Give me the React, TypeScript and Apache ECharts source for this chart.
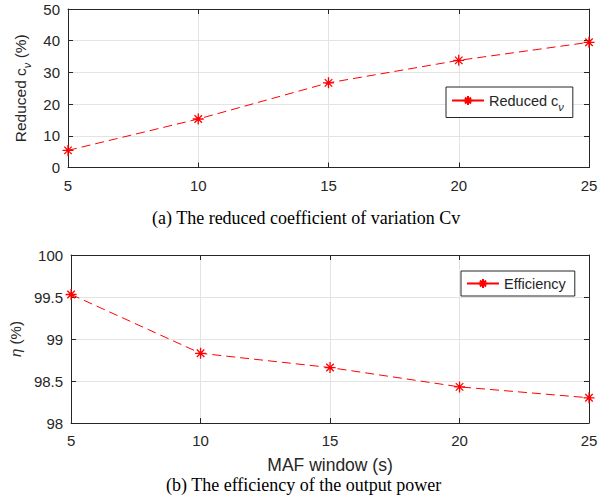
import React, { useEffect, useRef } from "react";
import * as echarts from "echarts";

const windows = [5, 10, 15, 20, 25];
const reducedCv = [5.4, 15.3, 26.7, 33.8, 39.5];
const efficiency = [99.53, 98.83, 98.66, 98.43, 98.30];
const cvTicks = { min: 0, max: 50, interval: 10 };
const effTicks = { min: 98, max: 100, interval: 0.5 };
const xTicks = { min: 5, max: 25, interval: 5 };

const captionA = "(a) The reduced coefficient of variation Cv";
const captionB = "(b) The efficiency of the output power";
const xName = "MAF window (s)";

const AXIS_COLOR = "#262626";
const GRID_COLOR = "#e3e3e3";
const STAR = "path://M5,0L5,10M0,5L10,5M1.6,1.6L8.4,8.4M1.6,8.4L8.4,1.6";

export default function App() {
  const ref = useRef<HTMLDivElement>(null);
  useEffect(() => {
    document.body.style.margin = "0";
    if (!ref.current) return;
    const chart = echarts.init(ref.current, undefined, { renderer: "svg" });
    const font = "Liberation Sans, Arial, sans-serif";
    const serif = "Liberation Serif, Times New Roman, serif";

    const mkX = (gridIndex: number, position: "bottom" | "top", main: boolean, extra: any = {}) => ({
      type: "value",
      gridIndex,
      position,
      ...xTicks,
      axisLine: { show: true, onZero: false, lineStyle: { color: AXIS_COLOR, width: 1 } },
      axisTick: { show: true, inside: true, length: 5, lineStyle: { color: AXIS_COLOR } },
      axisLabel: { show: main, color: AXIS_COLOR, fontSize: 15, fontFamily: font, margin: 10 },
      splitLine: { show: main, lineStyle: { color: GRID_COLOR, width: 1 } },
      ...extra,
    });
    const mkY = (gridIndex: number, position: "left" | "right", main: boolean, ticks: any, extra: any = {}) => ({
      type: "value",
      gridIndex,
      position,
      ...ticks,
      axisLine: { show: true, onZero: false, lineStyle: { color: AXIS_COLOR, width: 1 } },
      axisTick: { show: true, inside: true, length: 5, lineStyle: { color: AXIS_COLOR } },
      axisLabel: { show: main, color: AXIS_COLOR, fontSize: 15, fontFamily: font, margin: 8 },
      splitLine: { show: main, lineStyle: { color: GRID_COLOR, width: 1 } },
      ...extra,
    });

    const lineSeries = (name: string, xi: number, yi: number, ys: number[]) => ({
      type: "line",
      name,
      xAxisIndex: xi,
      yAxisIndex: yi,
      data: windows.map((w, i) => [w, ys[i]]),
      symbol: STAR,
      symbolSize: 11,
      symbolKeepAspect: true,
      showSymbol: true,
      lineStyle: { color: "#ff0000", width: 1, type: [9, 5] },
      itemStyle: { color: "#ff0000", borderColor: "#ff0000", borderWidth: 1.3 },
    });

    const richName = {
      a: { fontSize: 15.5, fontFamily: font, color: AXIS_COLOR, lineHeight: 24 },
      s: { fontSize: 11, fontFamily: font, color: AXIS_COLOR, fontStyle: "italic", lineHeight: 10, verticalAlign: "bottom" },
    };
    const richLegend = {
      a: { fontSize: 14.5, fontFamily: font, color: AXIS_COLOR, lineHeight: 24 },
      s: { fontSize: 11, fontFamily: font, color: AXIS_COLOR, fontStyle: "italic", lineHeight: 10, verticalAlign: "bottom" },
    };

    chart.setOption({
      animation: false,
      backgroundColor: "#ffffff",
      grid: [
        { left: 68, top: 9, width: 521, height: 158.5, show: false },
        { left: 68, top: 255, width: 521, height: 168, show: false },
      ],
      xAxis: [
        mkX(0, "bottom", true),
        mkX(0, "top", false),
        mkX(1, "bottom", true, {
          name: xName,
          nameLocation: "middle",
          nameGap: 33,
          nameTextStyle: { fontSize: 17.5, fontFamily: font, color: AXIS_COLOR },
        }),
        mkX(1, "top", false),
      ],
      yAxis: [
        mkY(0, "left", true, cvTicks, {
          name: "{a|Reduced c}{s|ν}{a| (%)}",
          nameLocation: "middle",
          nameGap: 28,
          nameTextStyle: { rich: richName },
        }),
        mkY(0, "right", false, cvTicks),
        mkY(1, "left", true, effTicks, {
          name: "{i|η} (%)",
          nameLocation: "middle",
          nameGap: 41,
          nameTextStyle: {
            fontSize: 15,
            fontFamily: font,
            color: AXIS_COLOR,
            rich: { i: { fontSize: 15, fontFamily: font, color: AXIS_COLOR, fontStyle: "italic" } },
          },
        }),
        mkY(1, "right", false, effTicks),
      ],
      legend: [
        {
          data: ["Reduced cν"],
          left: 446,
          top: 87,
          orient: "vertical",
          backgroundColor: "#ffffff",
          borderColor: AXIS_COLOR,
          borderWidth: 1,
          borderRadius: 0,
          padding: [6, 9, 5, 5],
          itemWidth: 32,
          itemHeight: 11,
          lineStyle: { type: "solid" },
          formatter: () => "{a|Reduced c}{s|ν}",
          textStyle: { rich: richLegend },
        },
        {
          data: ["Efficiency"],
          left: 461,
          top: 271,
          orient: "vertical",
          backgroundColor: "#ffffff",
          borderColor: AXIS_COLOR,
          borderWidth: 1,
          borderRadius: 0,
          padding: [5, 9, 5, 5],
          itemWidth: 32,
          itemHeight: 11,
          lineStyle: { type: "solid" },
          textStyle: { fontSize: 14.5, fontFamily: font, color: AXIS_COLOR },
        },
      ],
      graphic: [
        {
          type: "text",
          left: 152,
          top: 209,
          style: { text: captionA, font: `18px ${serif}`, fill: "#000000" },
        },
        {
          type: "text",
          left: 166,
          top: 476,
          style: { text: captionB, font: `18px ${serif}`, fill: "#000000" },
        },
      ],
      series: [
        lineSeries("Reduced cν", 0, 0, reducedCv),
        lineSeries("Efficiency", 2, 2, efficiency),
      ],
    });
    return () => chart.dispose();
  }, []);
  return <div ref={ref} style={{ width: 608, height: 502 }} />;
}
